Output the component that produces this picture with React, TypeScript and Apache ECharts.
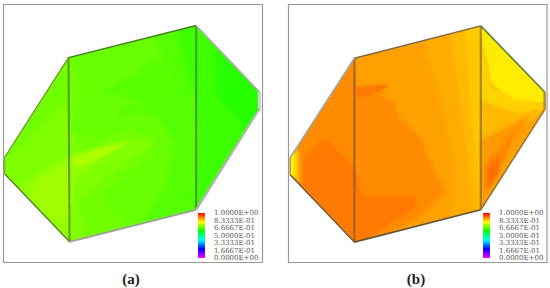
import React, { useEffect, useRef } from "react";
import * as echarts from "echarts";

const scaleStops = ["#ff00ff", "#0000ff", "#00ffff", "#00ff00", "#ffff00", "#ff0000"];
const tickLabels = ["0.0000E+00", "1.6667E-01", "3.3333E-01", "5.0000E-01", "6.6667E-01", "8.3333E-01", "1.0000E+00"];
const captions = ["(a)", "(b)"];

const hexA = [[13,472],[205,172],[588,76],[778,275],[778,327],[588,628],[208,724],[13,520]];
const hexB = [[45,472],[238,174],[618,77],[810,275],[810,328],[618,628],[238,725],[45,523]];

const valuesA = [0.68, 0.665, 0.648, 0.63, 0.69, 0.7, 0.712, 0.725, 0.735, 0.668];
const bandsA = [
  hexA,
  [[460,90],[520,250],[480,350],[530,430],[500,560],[430,670],[600,640],[790,330],[790,270],[600,60]],
  [[530,70],[560,200],[590,300],[600,430],[590,540],[585,640],[680,490],[790,327],[790,275],[600,60]],
  [[650,145],[700,200],[790,270],[790,327],[740,385],[700,340],[650,280]],
  [[0,472],[205,160],[240,250],[210,400],[300,420],[400,390],[460,420],[440,470],[360,530],[300,590],[380,690],[208,740],[0,520]],
  [[0,500],[100,400],[190,320],[220,420],[240,480],[330,440],[450,410],[460,430],[350,500],[230,600],[250,710],[208,740],[60,590]],
  [[60,560],[110,520],[200,470],[300,440],[400,420],[300,480],[230,530],[210,600],[210,715],[150,670]],
  [[90,590],[110,540],[200,490],[215,600],[190,680]],
  [[215,475],[300,445],[370,430],[290,475],[225,500]],
  [[310,270],[400,230],[470,170],[520,250],[480,350],[410,330],[350,350],[420,300]],
];

const valuesB = [0.875, 0.866, 0.855, 0.842, 0.89, 0.905, 0.905, 0.89, 0.87, 0.84, 0.81, 0.815, 0.835, 0.855, 0.88, 0.895, 0.912];
const bandsB = [
  hexB,
  [[440,90],[470,200],[510,350],[540,500],[530,650],[630,630],[630,70]],
  [[525,90],[550,250],[570,400],[590,560],[600,640],[630,630],[630,70]],
  [[570,75],[590,300],[610,530],[618,600],[630,630],[630,70]],
  [[30,472],[238,160],[245,260],[350,300],[370,350],[440,420],[460,480],[510,570],[420,660],[238,740],[30,523]],
  [[78,480],[150,415],[215,480],[238,500],[260,590],[420,590],[420,620],[240,735],[80,550]],
  [[245,262],[340,252],[320,272],[245,292]],
  [[30,462],[82,440],[82,555],[30,535]],
  [[30,462],[72,445],[72,545],[30,535]],
  [[30,465],[65,455],[65,535],[30,535]],
  [[30,465],[56,460],[56,530],[30,530]],
  [[618,70],[820,270],[820,310],[710,300],[650,250],[630,150]],
  [[618,150],[650,260],[720,300],[820,315],[760,360],[680,400],[622,500],[618,400]],
  [[618,300],[660,320],[730,340],[800,325],[760,360],[690,420],[622,560]],
  [[622,420],[700,380],[765,345],[700,450],[620,625]],
  [[640,480],[680,450],[730,370],[690,470],[630,580]],
  [[640,510],[670,470],[670,520],[640,560]],
];

const edgeIndexPairs = [[0,1],[1,2],[2,3],[3,4],[4,5],[5,6],[6,7],[7,0]];
const edgeColorsA = ["#6f9f2a","#4a7a1e","#b3adb8","#d0d0d0","#b5b5b5","#a0a0a0","#5f8030","#84b030"];
const edgeColorsB = ["#a5a5a5","#7a6a48","#5a7f42","#b08a3a","#957530","#665538","#665538","#a8905a"];
const edgeWidthsA = [1.4, 1.4, 1.6, 3.2, 2.4, 1.8, 1.4, 1.4];
const edgeWidthsB = [1.6, 1.4, 1.6, 2.4, 1.6, 1.6, 1.4, 1.4];
const highlightA = [[778,332,592,632]];
const dividersA = [[205,172,208,724],[588,76,588,628]];
const dividersB = [[238,174,238,725],[618,77,618,628]];

const colorOf = (v: number) => echarts.color.lerp(v, scaleStops) as string;

const bandSeries = (grid: number, hex: number[][], values: number[], bands: number[][][]) => ({
  type: "custom",
  xAxisIndex: grid,
  yAxisIndex: grid,
  silent: true,
  clip: false,
  data: values.map((v, i) => [i, v]),
  renderItem: (_p: any, api: any) => {
    const i = api.value(0);
    const fill = colorOf(api.value(1));
    return {
      type: "polygon",
      shape: { points: bands[i].map((pt) => api.coord(pt)) },
      clipPath: { type: "polygon", shape: { points: hex.map((pt) => api.coord(pt)) } },
      style: { fill, opacity: 0.94, stroke: null, shadowBlur: 5, shadowColor: fill },
    };
  },
});

const edgeSeries = (grid: number, hex: number[][], colors: string[], widths: number[]) => ({
  type: "custom",
  xAxisIndex: grid,
  yAxisIndex: grid,
  silent: true,
  clip: false,
  data: edgeIndexPairs.map((_, i) => [i]),
  renderItem: (_p: any, api: any) => {
    const i = api.value(0);
    const [a, b] = edgeIndexPairs[i];
    return {
      type: "line",
      shape: {
        x1: api.coord(hex[a])[0], y1: api.coord(hex[a])[1],
        x2: api.coord(hex[b])[0], y2: api.coord(hex[b])[1],
      },
      style: { stroke: colors[i], lineWidth: widths[i] },
    };
  },
});

const lineSeries = (grid: number, lines: number[][], stroke: string, lineWidth: number) => ({
  type: "custom",
  xAxisIndex: grid,
  yAxisIndex: grid,
  silent: true,
  clip: false,
  data: lines,
  renderItem: (_p: any, api: any) => {
    const p = api.coord([api.value(0), api.value(1)]);
    const q = api.coord([api.value(2), api.value(3)]);
    return {
      type: "line",
      shape: { x1: p[0], y1: p[1], x2: q[0], y2: q[1] },
      style: { stroke, lineWidth },
    };
  },
});

const barSeries = (grid: number) => ({
  type: "custom",
  xAxisIndex: grid,
  yAxisIndex: grid,
  silent: true,
  clip: false,
  data: [[0]],
  renderItem: (_p: any, api: any) => {
    const top = api.coord([0, tickLabels.length - 1]);
    const bottom = api.coord([1, 0]);
    return {
      type: "rect",
      shape: { x: top[0], y: top[1], width: bottom[0] - top[0], height: bottom[1] - top[1] },
      style: {
        fill: {
          type: "linear", x: 0, y: 1, x2: 0, y2: 0,
          colorStops: scaleStops.map((c, i) => ({ offset: i / (scaleStops.length - 1), color: c })),
        },
      },
    };
  },
});

const plotAxis = (min: number, max: number, inverse = false) => ({
  type: "value", min, max, inverse, show: false,
});

const barX = () => ({ type: "value", min: 0, max: 1, show: false });
const barY = (gridIndex: number) => ({
  type: "category",
  gridIndex,
  data: tickLabels,
  boundaryGap: false,
  position: "right",
  axisLine: { show: false },
  axisTick: { show: false },
  axisLabel: { show: true, interval: 0, margin: 9, fontSize: 7, fontFamily: "DejaVu Serif", color: "#555" },
});

export default function App() {
  const ref = useRef<HTMLDivElement>(null);
  useEffect(() => {
    document.body.style.margin = "0";
    const chart = echarts.init(ref.current!, undefined, { renderer: "svg" });
    chart.setOption({
      animation: false,
      backgroundColor: "#ffffff",
      title: captions.map((text, i) => ({
        text,
        left: i === 0 ? 131 : 416,
        top: 271,
        padding: 0,
        textAlign: "center",
        textStyle: { fontFamily: "Liberation Serif", fontSize: 15, fontWeight: "bold", color: "#222" },
      })),
      grid: [
        { left: 3.5, top: 4.5, width: 259, height: 258, show: true, borderColor: "#999999", borderWidth: 1.2, backgroundColor: "#fff" },
        { left: 288.5, top: 4.5, width: 258.5, height: 258, show: true, borderColor: "#999999", borderWidth: 1.2, backgroundColor: "#fff" },
        { left: 198, top: 213, width: 7, height: 45 },
        { left: 483, top: 213, width: 7, height: 45 },
      ],
      xAxis: [
        { ...plotAxis(10, 787), gridIndex: 0 },
        { ...plotAxis(40, 817), gridIndex: 1 },
        { ...barX(), gridIndex: 2 },
        { ...barX(), gridIndex: 3 },
      ],
      yAxis: [
        { ...plotAxis(13, 786, true), gridIndex: 0 },
        { ...plotAxis(13, 786, true), gridIndex: 1 },
        barY(2),
        barY(3),
      ],
      series: [
        bandSeries(0, hexA, valuesA, bandsA),
        bandSeries(1, hexB, valuesB, bandsB),
        lineSeries(0, dividersA, "rgba(70,70,70,0.5)", 2.2),
        lineSeries(1, dividersB, "rgba(70,70,70,0.5)", 2.2),
        edgeSeries(0, hexA, edgeColorsA, edgeWidthsA),
        edgeSeries(1, hexB, edgeColorsB, edgeWidthsB),
        lineSeries(0, highlightA, "rgba(255,255,255,0.85)", 0.7),
        barSeries(2),
        barSeries(3),
      ],
    });
    return () => chart.dispose();
  }, []);
  return <div ref={ref} style={{ width: 550, height: 288 }} />;
}
